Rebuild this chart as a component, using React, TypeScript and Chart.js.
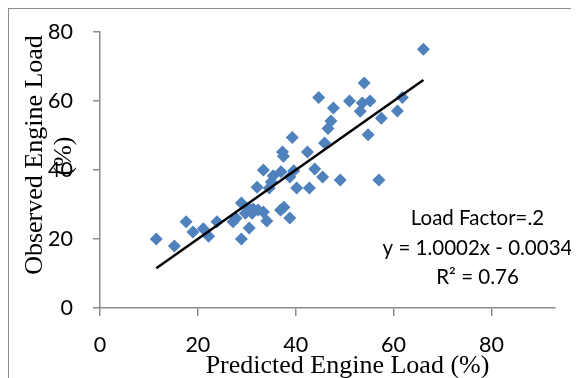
import React, { useEffect, useRef } from "react";
import { Chart, registerables } from "chart.js";

Chart.register(...registerables);

// Predicted engine load (%) — x values
const predicted = [
  11.5, 15.2, 17.6, 19.0, 21.1, 22.2, 23.9, 27.2, 27.8, 28.9,
  28.9, 30.5, 29.7, 30.3, 31.1, 31.3, 32.3, 33.4, 32.1, 34.1,
  33.4, 34.6, 35.0, 35.4, 36.9, 37.6, 38.8, 37.0, 37.3, 37.5,
  38.8, 39.6, 39.3, 40.2, 42.4, 42.8, 43.9, 45.5, 45.9, 46.6,
  47.2, 47.7, 44.7, 49.1, 51.0, 53.6, 55.2, 53.2, 54.0, 54.8,
  57.0, 57.5, 60.8, 61.8, 66.1,
];
// Observed engine load (%) — y values
const observed = [
  20.0, 18.0, 25.0, 22.0, 23.0, 20.8, 25.0, 25.0, 26.0, 30.4,
  20.0, 23.2, 27.5, 29.0, 27.5, 28.7, 28.4, 27.8, 35.0, 25.2,
  40.0, 34.8, 36.5, 38.3, 28.4, 29.2, 26.1, 39.5, 45.2, 44.0,
  38.0, 39.8, 49.4, 34.8, 45.2, 34.8, 40.3, 38.0, 47.8, 52.0,
  54.2, 58.0, 61.0, 37.1, 60.0, 59.4, 60.0, 57.0, 65.2, 50.2,
  37.1, 55.0, 57.1, 61.0, 75.0,
];
// Trendline end points (y = 1.0002x - 0.0034)
const trendX = [11.5, 66.1];
const trendY = [11.5, 66.1];

const xTicks = [0, 20, 40, 60, 80];
const yTicks = [0, 20, 40, 60, 80];

const xTitle = "Predicted Engine Load (%)";
const yTitleLines = ["Observed Engine Load", "(%)"];
const annotationLines = ["Load Factor=.2", "y = 1.0002x - 0.0034", "R\u00B2 = 0.76"];

const AXIS_COLOR = "#8c8c8c";
const POINT_COLOR = "#4F81BD";

export default function App() {
  const ref = useRef<HTMLCanvasElement | null>(null);

  useEffect(() => {
    if (!ref.current) return;

    const textPlugin = {
      id: "extraTexts",
      afterDraw(chart: any) {
        const { ctx, chartArea } = chart;
        const { left, bottom } = chartArea;
        ctx.save();
        ctx.fillStyle = "#000";
        // X title
        ctx.font = '26px "Liberation Serif"';
        ctx.textAlign = "center";
        ctx.textBaseline = "alphabetic";
        ctx.fillText(xTitle, left + 247.5, bottom + 65);
        // Y title (rotated, two lines)
        ctx.save();
        ctx.translate(left - 58, bottom - 153);
        ctx.rotate(-Math.PI / 2);
        ctx.fillText(yTitleLines[0], 0, 0);
        ctx.restore();
        ctx.save();
        ctx.translate(left - 29, bottom - 152);
        ctx.rotate(-Math.PI / 2);
        ctx.fillText(yTitleLines[1], 0, 0);
        ctx.restore();
        // Annotation
        ctx.font = '20.5px "Lato"';
        const ax = left + 377.5;
        const ay = bottom - 83;
        annotationLines.forEach((t, i) => {
          ctx.fillText(t, ax, ay + i * 29.5);
        });
        ctx.restore();
      },
    };

    const chart = new Chart(ref.current, {
      type: "scatter",
      data: {
        datasets: [
          {
            label: "Trend",
            data: trendX.map((x, i) => ({ x, y: trendY[i] })),
            showLine: true,
            borderColor: "#000",
            borderWidth: 2.5,
            pointRadius: 0,
            order: 0,
          },
          {
            label: "Load Factor=.2",
            data: predicted.map((x, i) => ({ x, y: observed[i] })),
            pointStyle: "rectRot",
            pointRadius: 6.5,
            pointBackgroundColor: POINT_COLOR,
            pointBorderWidth: 0,
            borderWidth: 0,
            backgroundColor: POINT_COLOR,
            order: 1,
          },
        ],
      },
      options: {
        animation: false,
        responsive: false,
        events: [],
        layout: { autoPadding: false, padding: { top: 23, right: 24, left: 0, bottom: 0 } },
        plugins: {
          legend: { display: false },
          tooltip: { enabled: false },
        },
        scales: {
          x: {
            type: "linear",
            min: 0,
            max: 93,
            afterFit: (s: any) => {
              s.height = 70;
              s.paddingLeft = 0;
              s.paddingRight = 0;
              s.paddingTop = 0;
              s.paddingBottom = 0;
            },
            afterBuildTicks: (s: any) => {
              s.ticks = xTicks.map((v) => ({ value: v }));
            },
            ticks: {
              includeBounds: false,
              stepSize: 20,
              padding: 16,
              color: "#000",
              font: { family: "Lato", size: 21.5 },
            },
            grid: {
              drawOnChartArea: false,
              drawTicks: true,
              tickLength: 8,
              color: AXIS_COLOR,
              lineWidth: 1.5,
            },
            border: { color: AXIS_COLOR, width: 1.5 },
          },
          y: {
            type: "linear",
            min: 0,
            max: 80,
            afterFit: (s: any) => {
              s.width = 91;
              s.paddingLeft = 0;
              s.paddingRight = 0;
              s.paddingTop = 0;
              s.paddingBottom = 0;
            },
            afterBuildTicks: (s: any) => {
              s.ticks = yTicks.map((v) => ({ value: v }));
            },
            ticks: {
              stepSize: 20,
              padding: 20,
              color: "#000",
              font: { family: "Lato", size: 21.5 },
            },
            grid: {
              drawOnChartArea: false,
              drawTicks: true,
              tickLength: 7,
              color: AXIS_COLOR,
              lineWidth: 1.5,
            },
            border: { color: AXIS_COLOR, width: 1.5 },
          },
        },
      },
      plugins: [textPlugin],
    } as any);

    return () => chart.destroy();
  }, []);

  return (
    <div
      style={{
        width: 570,
        height: 369,
        borderLeft: `1px solid ${AXIS_COLOR}`,
        borderTop: `1px solid ${AXIS_COLOR}`,
        overflow: "hidden",
        background: "#fff",
      }}
    >
      <canvas ref={ref} width={570} height={369} style={{ display: "block" }} />
    </div>
  );
}
